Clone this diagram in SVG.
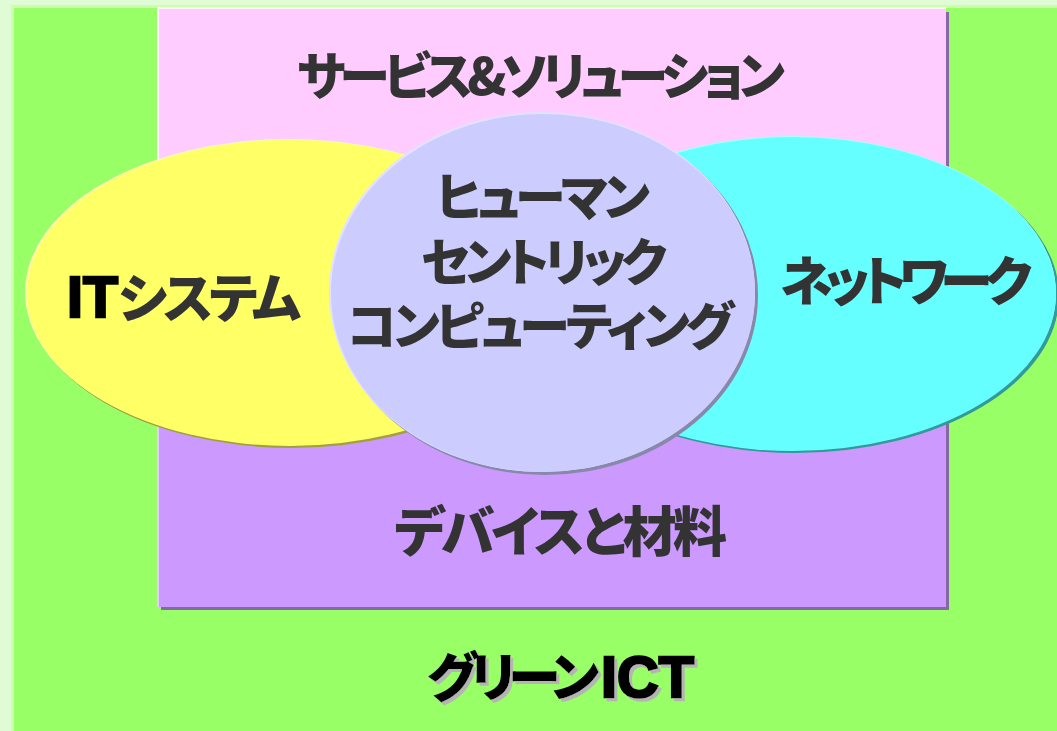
<svg xmlns="http://www.w3.org/2000/svg" width="1057" height="731" viewBox="0 0 1057 731">
<defs>
<filter id="tshadow" x="-5%" y="-20%" width="110%" height="140%">
<feOffset in="SourceAlpha" dx="3" dy="3" result="o"/>
<feFlood flood-color="#b4b4b4"/>
<feComposite in2="o" operator="in" result="s"/>
<feMerge><feMergeNode in="s"/><feMergeNode in="SourceGraphic"/></feMerge>
</filter>
</defs>
<style>
.jp{font-family:"Noto Sans CJK JP","Noto Sans CJK SC",sans-serif;font-weight:900;font-feature-settings:"palt";fill:#333333;stroke:none}
.lat{font-family:"Liberation Sans",Arial,sans-serif;font-weight:bold;fill:#000000;stroke:#000000;stroke-width:2.5;stroke-linejoin:miter}
.blk{fill:#000000}
</style>
<g id="background">
<rect x="0" y="0" width="1057" height="731" fill="#e0fcd6"/>
<rect x="11" y="5" width="1046" height="726" fill="#ccffaa"/>
<rect x="14" y="8" width="1043" height="723" fill="#99ff66"/>
</g>
<g id="panel">
<rect x="161" y="12" width="788" height="598" fill="#8866a8"/>
<rect x="157" y="7" width="789" height="300" fill="#fff2ff"/>
<rect x="157" y="300" width="789" height="307" fill="#e4ccff"/>
<rect x="159" y="9" width="787" height="291" fill="#ffccff"/>
<rect x="159" y="300" width="787" height="307" fill="#cc99ff"/>
</g>
<g id="it-system">
<ellipse cx="292" cy="295" rx="264" ry="153" fill="#a0a040"/>
<ellipse cx="289" cy="292" rx="264" ry="153" fill="#ffffaa"/>
<ellipse cx="290" cy="293" rx="263" ry="153" fill="#ffff66"/>
</g>
<g id="network">
<ellipse cx="795" cy="296" rx="264" ry="157" fill="#339999"/>
<ellipse cx="792" cy="293" rx="264" ry="157" fill="#aaffff"/>
<ellipse cx="793" cy="294" rx="263" ry="157" fill="#66ffff"/>
</g>
<g id="human-centric">
<ellipse cx="545" cy="295" rx="213" ry="180" fill="#8888aa"/>
<ellipse cx="542" cy="292" rx="213" ry="180" fill="#e2e2ff"/>
<ellipse cx="543" cy="293" rx="212" ry="179" fill="#ccccff"/>
</g>
<g id="labels">
<text class="jp" x="297" y="95" font-size="51" textLength="488">サービス&amp;ソリューション</text>
<text class="lat" font-size="58" y="317"><tspan x="67" textLength="51" lengthAdjust="spacingAndGlyphs">IT</tspan><tspan class="jp" x="118" y="318" font-size="53" textLength="183">システム</tspan></text>
<text class="jp" x="780" y="301" font-size="53" textLength="252">ネットワーク</text>
<text class="jp" font-size="51"><tspan x="436" y="216" textLength="214">ヒューマン</tspan><tspan x="421" y="281" textLength="246">セントリック</tspan><tspan x="347" y="345" textLength="387">コンピューティング</tspan></text>
<text class="jp" x="394" y="552" font-size="54" textLength="333">デバイスと材料</text>
</g>
<g id="green-ict">
<text class="jp blk" font-size="53" y="697" filter="url(#tshadow)"><tspan x="427" textLength="172">グリーン</tspan><tspan class="lat" x="601" font-size="57" textLength="93" lengthAdjust="spacingAndGlyphs">ICT</tspan></text>
</g>
<g id="connectors"></g>
</svg>
